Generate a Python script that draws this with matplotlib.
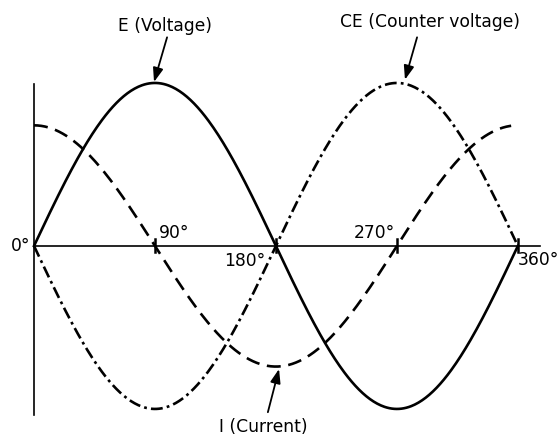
import numpy as np
import matplotlib
matplotlib.use("Agg")
import matplotlib.pyplot as plt

plt.rcParams['font.family'] = ['DejaVu Sans']
plt.rcParams['lines.scale_dashes'] = False

# wave parameters (amplitudes relative to E, phases in degrees)
e_amp, e_phase = 1.0, 0
ce_amp, ce_phase = 1.0, 180
i_amp, i_phase = 0.74, 90
e_range = (0, 360)
ce_range = (0, 360)
i_range = (0, 355)
tick_degrees = [90, 180, 270, 360]
tick_labels = ["0\u00b0", "90\u00b0", "180\u00b0", "270\u00b0", "360\u00b0"]
curve_labels = ["E (Voltage)", "CE (Counter voltage)", "I (Current)"]


def wave(amp, phase, rng):
    th = np.linspace(rng[0], rng[1], 400)
    return th, amp * np.sin(np.radians(th + phase))


fig = plt.figure(figsize=(5.59, 4.36), dpi=100)
ax = fig.add_axes([0, 0, 1, 1])
ax.set_xlim(-25.3, 390.6)
ax.set_ylim(-1.166, 1.509)
ax.axis('off')

# axis lines
ax.plot([0, 0], [-1.037, 0.994], color='black', lw=1.2)
ax.plot([0, 376.5], [0, 0], color='black', lw=1.2)
for d in tick_degrees:
    ax.plot([d, d], [-0.04, 0.04], color='black', lw=1.8)

# curves
th, y = wave(e_amp, e_phase, e_range)
ax.plot(th, y, color='black', lw=1.9)
th, y = wave(ce_amp, ce_phase, ce_range)
ax.plot(th, y, color='black', lw=1.9, dashes=(8.5, 3, 2, 3))
th, y = wave(i_amp, i_phase, i_range)
ax.plot(th, y, color='black', lw=1.9, dashes=(10, 5.5))

# degree labels
fs = 12.3
ax.text(-3, 0.0, tick_labels[0], ha='right', va='center', fontsize=fs)
ax.text(93, 0.049, tick_labels[1], ha='left', va='baseline', fontsize=fs)
ax.text(172, -0.125, tick_labels[2], ha='right', va='baseline', fontsize=fs)
ax.text(268.6, 0.049, tick_labels[3], ha='right', va='baseline', fontsize=fs)
ax.text(359.6, -0.117, tick_labels[4], ha='left', va='baseline', fontsize=fs)

# curve labels with arrows
arrow = dict(arrowstyle='-|>,head_length=0.6,head_width=0.22', color='black',
             lw=1.3, mutation_scale=14, shrinkA=0, shrinkB=0)
ax.text(97.8, 1.35, curve_labels[0], ha='center', va='center', fontsize=fs)
ax.annotate('', xy=(89.3, 1.006), xytext=(99, 1.28), arrowprops=arrow)
ax.text(294.6, 1.374, curve_labels[1], ha='center', va='center', fontsize=fs)
ax.annotate('', xy=(276, 1.02), xytext=(285, 1.28), arrowprops=arrow)
ax.text(170.4, -1.11, curve_labels[2], ha='center', va='center', fontsize=fs)
ax.annotate('', xy=(182.3, -0.755), xytext=(174, -1.02), arrowprops=arrow)

fig.savefig('out.png', dpi=100)
